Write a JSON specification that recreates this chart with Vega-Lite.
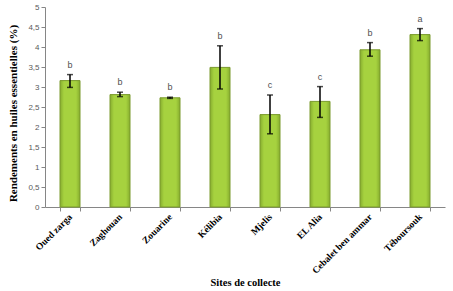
{
  "$schema": "https://vega.github.io/schema/vega-lite/v6.json",
  "width": 400,
  "height": 200,
  "autosize": {"type": "none"},
  "padding": {"left": 45, "top": 7, "right": 8, "bottom": 84},
  "background": "white",
  "config": {
    "view": {"stroke": null},
    "axisY": {
      "titleFont": "Liberation Serif", "titleFontSize": 11, "titleFontWeight": "bold", "titleColor": "#000",
      "titleX": -27, "titleY": 106, "titleAnchor": "middle",
      "labelOverlap": false, "labelBound": false, "labelFlush": false,
      "labelFont": "Liberation Sans", "labelFontSize": 8, "labelColor": "#595959",
      "grid": false, "tickSize": 4, "tickColor": "#868686", "domainColor": "#868686"
    }
  },
  "data": {"values": [
    {"site": "Oued zarga", "mean": 3.16, "lo": 2.99, "hi": 3.31, "grp": "b"},
    {"site": "Zaghouan", "mean": 2.81, "lo": 2.76, "hi": 2.87, "grp": "b"},
    {"site": "Zouarine", "mean": 2.73, "lo": 2.715, "hi": 2.745, "grp": "b"},
    {"site": "Kélibia", "mean": 3.49, "lo": 2.95, "hi": 4.03, "grp": "b"},
    {"site": "Mjelis", "mean": 2.31, "lo": 1.83, "hi": 2.8, "grp": "c"},
    {"site": "EL Alia", "mean": 2.64, "lo": 2.24, "hi": 3.01, "grp": "c"},
    {"site": "Cebalet ben ammar", "mean": 3.93, "lo": 3.77, "hi": 4.11, "grp": "b"},
    {"site": "Téboursouk", "mean": 4.31, "lo": 4.16, "hi": 4.46, "grp": "a"}
  ]},
  "encoding": {
    "x": {
      "field": "site", "type": "nominal", "sort": null,
      "scale": {"paddingInner": 0.6, "paddingOuter": 0.3},
      "axis": {
        "title": "Sites de collecte",
        "titleFont": "Liberation Serif", "titleFontSize": 10.5, "titleFontWeight": "bold", "titleColor": "#000",
        "titleY": 78, "titleBaseline": "alphabetic",
        "labelAngle": -45, "labelAlign": "right", "labelBaseline": "middle",
        "labelFont": "Liberation Serif", "labelFontSize": 9.5, "labelFontWeight": "bold", "labelColor": "#000",
        "labelPadding": 4, "labelOverlap": false,
        "tickBand": "extent", "tickSize": 4, "tickColor": "#868686",
        "domainColor": "#868686"
      }
    }
  },
  "layer": [
    {
      "mark": {
        "type": "bar",
        "stroke": "#7a9a2c", "strokeWidth": 1,
        "fill": {"gradient": "linear", "x1": 0, "y1": 0, "x2": 1, "y2": 0,
          "stops": [
            {"offset": 0, "color": "#86ad2e"},
            {"offset": 0.2, "color": "#a6d23f"},
            {"offset": 0.8, "color": "#a6d23f"},
            {"offset": 1, "color": "#86ad2e"}
          ]}
      },
      "encoding": {
        "y": {
          "field": "mean", "type": "quantitative",
          "scale": {"domain": [0, 5], "nice": false},
          "axis": {
            "title": "Rendements en huiles essentielles (%)",
            "values": [0, 0.5, 1, 1.5, 2, 2.5, 3, 3.5, 4, 4.5, 5],
            "labelExpr": "replace(format(datum.value, ''), '.', ',')"
          }
        }
      }
    },
    {
      "mark": {"type": "errorbar", "ticks": {"size": 6, "color": "#000", "thickness": 1.5}, "rule": {"color": "#000", "strokeWidth": 1.5}},
      "encoding": {
        "y": {"field": "lo", "type": "quantitative",
          "axis": {
            "title": "Rendements en huiles essentielles (%)",
            "values": [0, 0.5, 1, 1.5, 2, 2.5, 3, 3.5, 4, 4.5, 5],
            "labelExpr": "replace(format(datum.value, ''), '.', ',')"
          }},
        "y2": {"field": "hi"}
      }
    },
    {
      "mark": {"type": "text", "dy": -10, "font": "Liberation Sans", "fontSize": 9, "color": "#505050"},
      "encoding": {
        "y": {"field": "hi", "type": "quantitative",
          "axis": {
            "title": "Rendements en huiles essentielles (%)",
            "values": [0, 0.5, 1, 1.5, 2, 2.5, 3, 3.5, 4, 4.5, 5],
            "labelExpr": "replace(format(datum.value, ''), '.', ',')"
          }},
        "text": {"field": "grp"}
      }
    }
  ]
}
